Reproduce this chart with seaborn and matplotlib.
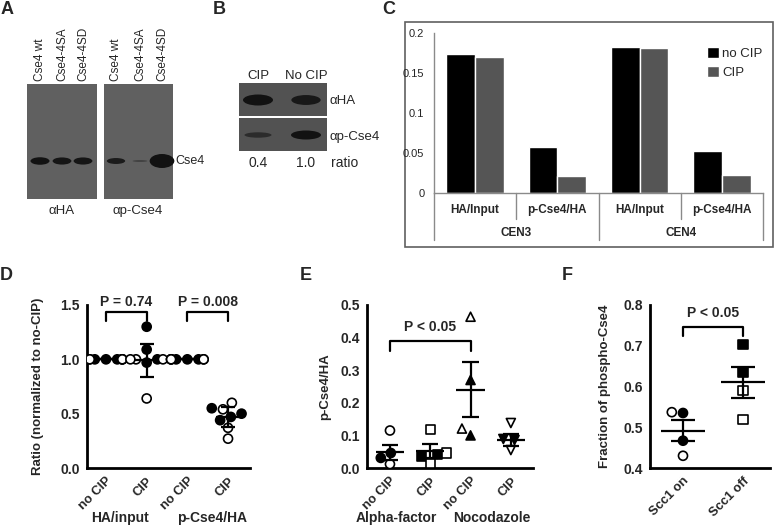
import numpy as np
import pandas as pd
import matplotlib.pyplot as plt
import seaborn as sns
from matplotlib.patches import Rectangle, Ellipse

# %% data

# A: western blot, band strengths (relative)
a_lanes = ['Cse4 wt', 'Cse4-4SA', 'Cse4-4SD']
a_ha = [1.0, 0.95, 0.95]
a_phospho = [0.85, 0.25, 2.0]

# B: western blot, CIP vs no CIP
b_lanes = ['CIP', 'No CIP']
b_ha = [1.0, 0.9]
b_phospho = [0.6, 1.0]
b_ratio = ['0.4', '1.0']

# C: ChIP bars
c_groups = ['CEN3', 'CEN3', 'CEN4', 'CEN4']
c_ratios = ['HA/Input', 'p-Cse4/HA', 'HA/Input', 'p-Cse4/HA']
c_no_cip = [0.174, 0.058, 0.183, 0.052]
c_cip = [0.170, 0.021, 0.181, 0.022]

# D: ratio normalized to no-CIP
d_order = ['HA noCIP', 'HA CIP', 'P noCIP', 'P CIP']
d_ticklabels = ['no CIP', 'CIP', 'no CIP', 'CIP']
d_ha_nocip_filled = [1.0, 1.0, 1.0, 1.0]
d_ha_nocip_open = [1.0, 1.0, 1.0, 1.0]
d_ha_cip_filled = [1.30, 1.09, 0.97, 1.0]
d_ha_cip_open = [1.0, 1.0, 1.0, 0.64]
d_p_nocip_filled = [1.0, 1.0, 1.0, 1.0]
d_p_nocip_open = [1.0, 1.0, 1.0, 1.0]
d_p_cip_filled = [0.55, 0.50, 0.47, 0.44]
d_p_cip_open = [0.60, 0.54, 0.37, 0.27]
d_mean = [1.0, 0.99, 1.0, 0.47]
d_err = [0.0, 0.15, 0.0, 0.09]
d_pvalues = ['P = 0.74', 'P = 0.008']
d_groups = ['HA/input', 'p-Cse4/HA']

# E: p-Cse4/HA, alpha-factor vs nocodazole
e_order = ['AF noCIP', 'AF CIP', 'NZ noCIP', 'NZ CIP']
e_ticklabels = ['no CIP', 'CIP', 'no CIP', 'CIP']
e_markers = ['o', 's', '^', 'v']
e_af_nocip_filled = [0.046, 0.031]
e_af_nocip_open = [0.115, 0.012]
e_af_cip_filled = [0.040, 0.036]
e_af_cip_open = [0.118, 0.046, 0.015]
e_nz_nocip_filled = [0.27, 0.10]
e_nz_nocip_open = [0.464, 0.121]
e_nz_cip_filled = [0.089, 0.086]
e_nz_cip_open = [0.138, 0.055]
e_mean = [0.048, 0.053, 0.240, 0.087]
e_err = [0.024, 0.022, 0.085, 0.018]
e_pvalue = 'P < 0.05'
e_groups = ['Alpha-factor', 'Nocodazole']

# F: fraction of phospho-Cse4
f_order = ['Scc1 on', 'Scc1 off']
f_markers = ['o', 's']
f_on_filled = [0.535, 0.467]
f_on_open = [0.537, 0.430]
f_off_filled = [0.702, 0.635]
f_off_open = [0.589, 0.520]
f_mean = [0.492, 0.610]
f_err = [0.026, 0.038]
f_pvalue = 'P < 0.05'

# %% setup

sns.set_style('white')
plt.rcParams['font.family'] = ['Liberation Sans', 'DejaVu Sans']

W, H = 777, 528
fig = plt.figure(figsize=(W / 100, H / 100), dpi=100)


def px_axes(x0, y0, x1, y1):
    return fig.add_axes([x0 / W, 1 - y1 / H, (x1 - x0) / W, (y1 - y0) / H])


ax0 = fig.add_axes([0, 0, 1, 1])
ax0.set_xlim(0, W)
ax0.set_ylim(H, 0)
ax0.axis('off')

for letter, x, y in [('A', 1, 9), ('B', 213, 10), ('C', 382, 9),
                     ('D', 0, 275), ('E', 300, 275), ('F', 562, 275)]:
    ax0.text(x, y, letter, fontsize=13, fontweight='bold', ha='left', va='center')


def band(cx, cy, s, base_w, base_h):
    w = base_w * (0.55 + 0.45 * min(s, 1.0) ** 0.5) * (1 + 0.3 * max(s - 1, 0))
    h = max(base_h * s, 2.0)
    g = 0.07 + 0.25 * (1 - min(s, 1.0))
    ax0.add_patch(Ellipse((cx, cy), w, h, color=(g, g, g), lw=0))


# %% A blots
a_x_left = [40, 62, 83]
a_x_right = [116, 140, 162]
ax0.add_patch(Rectangle((27, 84), 70, 115, color='#606060', lw=0))
ax0.add_patch(Rectangle((104, 84), 69, 115, color='#606060', lw=0))
for x, s in zip(a_x_left, a_ha):
    band(x, 161, s, 19, 7.5)
for x, s in zip(a_x_right, a_phospho):
    band(x, 161, s, 19, 7)
for x, lab in zip(a_x_left + a_x_right, a_lanes + a_lanes):
    ax0.text(x, 81, lab, rotation=90, ha='center', va='bottom', fontsize=8.5)
ax0.text(175, 161, 'Cse4', ha='left', va='center', fontsize=9)
ax0.text(62, 211, 'αHA', ha='center', va='center', fontsize=9.5)
ax0.text(138, 211, 'αp-Cse4', ha='center', va='center', fontsize=9.5)

# %% B blots
b_x = [258, 306]
ax0.add_patch(Rectangle((239, 83), 88, 33, color='#525252', lw=0))
ax0.add_patch(Rectangle((239, 118), 88, 33, color='#525252', lw=0))
for x, s in zip(b_x, b_ha):
    band(x, 100, s, 30, 11)
for x, s in zip(b_x, b_phospho):
    band(x, 135, s, 30, 9)
for x, lab, r in zip(b_x, b_lanes, b_ratio):
    ax0.text(x, 76, lab, ha='center', va='center', fontsize=9.5)
    ax0.text(x, 163, r, ha='center', va='center', fontsize=10)
ax0.text(330, 101, 'αHA', ha='left', va='center', fontsize=9.5)
ax0.text(330, 137, 'αp-Cse4', ha='left', va='center', fontsize=9.5)
ax0.text(331, 163, 'ratio', ha='left', va='center', fontsize=10)

# %% C bars
ax0.add_patch(Rectangle((405, 22), 368, 225, fill=False, edgecolor='#606060', lw=1.2))
c_keys = [g + ' ' + r for g, r in zip(c_groups, c_ratios)]
df_c = pd.DataFrame({
    'key': c_keys + c_keys,
    'treatment': ['no CIP'] * 4 + ['CIP'] * 4,
    'value': c_no_cip + c_cip,
})
ax_c = px_axes(434, 33, 763, 193)
sns.barplot(data=df_c, x='key', y='value', hue='treatment', order=c_keys,
            hue_order=['no CIP', 'CIP'], palette={'no CIP': 'black', 'CIP': '#555555'},
            width=0.7, saturation=1, errorbar=None, ax=ax_c)
ax_c.set_xlim(-0.5, 3.5)
ax_c.set_ylim(0, 0.2)
ax_c.set_yticks([0, 0.05, 0.1, 0.15, 0.2])
ax_c.set_yticklabels(['0', '0.05', '0.1', '0.15', '0.2'], fontsize=8)
ax_c.set_xticks(range(4))
ax_c.set_xticklabels(c_ratios, fontsize=8.5, fontweight='bold')
ax_c.tick_params(axis='x', length=0, pad=8)
ax_c.tick_params(axis='y', length=4, width=0.8, color='#808080', direction='out', pad=3)
ax_c.set_xlabel('')
ax_c.set_ylabel('')
for side in ['top', 'right']:
    ax_c.spines[side].set_visible(False)
for side in ['left', 'bottom']:
    ax_c.spines[side].set_color('#8a8a8a')
    ax_c.spines[side].set_linewidth(1)
trans_c = ax_c.get_xaxis_transform()
for x in [-0.5, 1.5, 3.5]:
    ax_c.plot([x, x], [0, -0.294], transform=trans_c, clip_on=False, color='#8a8a8a', lw=1)
for x in [0.5, 2.5]:
    ax_c.plot([x, x], [0, -0.1625], transform=trans_c, clip_on=False, color='#8a8a8a', lw=1)
for x, g in zip([0.5, 2.5], ['CEN3', 'CEN4']):
    ax_c.text(x, -0.25, g, transform=trans_c, ha='center', va='center',
              fontsize=8.5, fontweight='bold')
sns.move_legend(ax_c, 'upper left', bbox_to_anchor=(0.83, 0.91), frameon=False,
                title=None, fontsize=9.5, handlelength=0.9, handleheight=0.9,
                handletextpad=0.25, labelspacing=0.45, borderaxespad=0, borderpad=0)

# %% scatter panels


def points_frame(entries):
    rows = []
    for cond, fill, vals in entries:
        for v in vals:
            rows.append({'cond': cond, 'fill': fill, 'value': v})
    return pd.DataFrame(rows)


def style_prism(ax, ticklabels):
    for side in ['top', 'right']:
        ax.spines[side].set_visible(False)
    for side in ['left', 'bottom']:
        ax.spines[side].set_linewidth(2)
        ax.spines[side].set_color('black')
    ax.tick_params(axis='both', direction='out', length=3.5, width=2, color='black', pad=1.5)
    ax.set_xticks(range(len(ticklabels)))
    ax.set_xticklabels(ticklabels, rotation=45, ha='right', rotation_mode='anchor',
                       fontsize=9.3, fontweight='bold')
    for t in ax.get_yticklabels():
        t.set_fontweight('bold')
        t.set_fontsize(10)
    ax.set_xlabel('')


def mean_sem(ax, means, errs, half=0.3, cap=0.17):
    xs = np.arange(len(means))
    means = np.array(means)
    errs = np.array(errs)
    ax.hlines(means, xs - half, xs + half, color='black', lw=1.6, zorder=4)
    ax.vlines(xs, means - errs, means + errs, color='black', lw=1.6, zorder=4)
    ax.hlines(means + errs, xs - cap, xs + cap, color='black', lw=1.6, zorder=4)
    ax.hlines(means - errs, xs - cap, xs + cap, color='black', lw=1.6, zorder=4)


def bracket(ax, x1, x2, top, bottom, text, text_y):
    ax.plot([x1, x1, x2, x2], [bottom, top, top, bottom], color='black', lw=1.6, clip_on=False)
    ax.text((x1 + x2) / 2, text_y, text, ha='center', va='center',
            fontsize=10, fontweight='bold', clip_on=False)


fill_pal = {'filled': 'black', 'open': 'white'}

# D
df_d = points_frame([
    (d_order[0], 'filled', d_ha_nocip_filled), (d_order[0], 'open', d_ha_nocip_open),
    (d_order[1], 'filled', d_ha_cip_filled), (d_order[1], 'open', d_ha_cip_open),
    (d_order[2], 'filled', d_p_nocip_filled), (d_order[2], 'open', d_p_nocip_open),
    (d_order[3], 'filled', d_p_cip_filled), (d_order[3], 'open', d_p_cip_open),
])
ax_d = px_axes(87, 305, 250, 468)
sns.swarmplot(data=df_d, x='cond', y='value', hue='fill', order=d_order,
              hue_order=['filled', 'open'], palette=fill_pal, edgecolor='black',
              linewidth=1.2, size=6.5, legend=False, warn_thresh=1, ax=ax_d)
mean_sem(ax_d, d_mean, d_err)
ax_d.set_xlim(-0.467, 3.54)
ax_d.set_ylim(0, 1.5)
ax_d.set_yticks([0, 0.5, 1.0, 1.5])
style_prism(ax_d, d_ticklabels)
ax_d.set_ylabel('Ratio (normalized to no-CIP)', fontsize=9.5, fontweight='bold', labelpad=12)
bracket(ax_d, 0, 1, 1.44, 1.35, d_pvalues[0], 1.53)
bracket(ax_d, 2, 3, 1.44, 1.35, d_pvalues[1], 1.53)
trans_d = ax_d.get_xaxis_transform()
for x, g in zip([0.35, 2.6], d_groups):
    ax_d.text(x, -0.305, g, transform=trans_d, ha='center', va='center',
              fontsize=10, fontweight='bold')

# E
e_entries = [
    (e_af_nocip_filled, e_af_nocip_open),
    (e_af_cip_filled, e_af_cip_open),
    (e_nz_nocip_filled, e_nz_nocip_open),
    (e_nz_cip_filled, e_nz_cip_open),
]
ax_e = px_axes(367, 305, 533, 468)
for cond, mk, (filled, opened) in zip(e_order, e_markers, e_entries):
    df_e = points_frame([(cond, 'filled', filled), (cond, 'open', opened)])
    sns.swarmplot(data=df_e, x='cond', y='value', hue='fill', order=e_order,
                  hue_order=['filled', 'open'], palette=fill_pal, edgecolor='black',
                  linewidth=1.2, size=6.5, marker=mk, legend=False,
                  warn_thresh=1, ax=ax_e)
mean_sem(ax_e, e_mean, e_err, half=0.35, cap=0.2)
ax_e.set_xlim(-0.57, 3.55)
ax_e.set_ylim(0, 0.5)
ax_e.set_yticks([0, 0.1, 0.2, 0.3, 0.4, 0.5])
style_prism(ax_e, e_ticklabels)
ax_e.set_ylabel('p-Cse4/HA', fontsize=9.5, fontweight='bold', labelpad=7)
bracket(ax_e, 0, 2, 0.39, 0.359, e_pvalue, 0.433)
trans_e = ax_e.get_xaxis_transform()
for x, g in zip([0.17, 2.53], e_groups):
    ax_e.text(x, -0.305, g, transform=trans_e, ha='center', va='center',
              fontsize=10, fontweight='bold')

# F
f_entries = [(f_on_filled, f_on_open), (f_off_filled, f_off_open)]
ax_f = px_axes(650, 305, 770, 468)
for cond, mk, (filled, opened) in zip(f_order, f_markers, f_entries):
    df_f = points_frame([(cond, 'filled', filled), (cond, 'open', opened)])
    sns.swarmplot(data=df_f, x='cond', y='value', hue='fill', order=f_order,
                  hue_order=['filled', 'open'], palette=fill_pal, edgecolor='black',
                  linewidth=1.2, size=6.5, marker=mk, legend=False, warn_thresh=1, ax=ax_f)
mean_sem(ax_f, f_mean, f_err, half=0.36, cap=0.2)
ax_f.set_xlim(-0.55, 1.45)
ax_f.set_ylim(0.4, 0.8)
ax_f.set_yticks([0.4, 0.5, 0.6, 0.7, 0.8])
style_prism(ax_f, f_order)
ax_f.set_ylabel('Fraction of phospho-Cse4', fontsize=9.5, fontweight='bold', labelpad=9)
bracket(ax_f, 0, 1, 0.747, 0.724, f_pvalue, 0.78)

fig.savefig('out.png', dpi=100)
